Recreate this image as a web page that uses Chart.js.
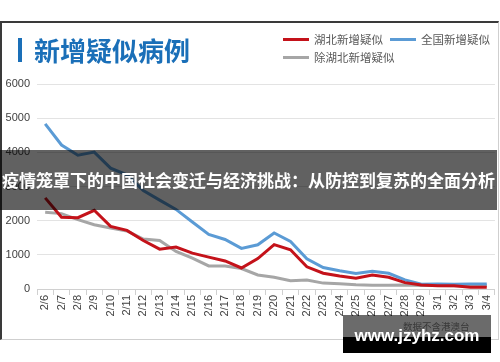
<!DOCTYPE html>
<html>
<head>
<meta charset="utf-8">
<script src="https://cdn.jsdelivr.net/npm/chart.js@4"></script>
<style>
  html,body{margin:0;padding:0;background:#fff;}
  #wrap{position:relative;width:500px;height:362px;overflow:hidden;background:#fff;font-family:"Noto Sans CJK SC","Liberation Sans",sans-serif;}
  canvas{position:absolute;left:0;top:0;}
  #frame{position:absolute;left:0;top:21px;width:496px;height:316px;border-top:2px solid #3a3a3a;border-left:2px solid #3a3a3a;border-right:1px solid #cfcfcf;border-bottom:1px solid #cfcfcf;pointer-events:none;}
  #titlebar{position:absolute;left:18px;top:38px;width:4px;height:24px;background:#1a6fb8;}
  #title{position:absolute;left:34px;top:32px;font-size:26px;font-weight:bold;color:#1a6fb8;line-height:36px;white-space:nowrap;letter-spacing:0px;}
  .lg{position:absolute;height:14px;display:flex;align-items:center;font-size:11.5px;color:#595959;white-space:nowrap;}
  .lg i{display:inline-block;width:26px;height:3px;margin-right:5px;}
  #banner{position:absolute;left:0;top:150px;width:497px;height:60px;background:rgba(0,0,0,0.62);color:#fff;font-weight:bold;font-size:17px;line-height:60px;text-align:center;white-space:nowrap;overflow:visible;}
  #note{position:absolute;left:403px;top:319px;font-size:9.5px;color:#888;white-space:nowrap;}
  #wm{position:absolute;left:343px;top:315px;width:148px;height:38px;background:linear-gradient(to bottom,rgba(0,0,0,0.58) 0px,rgba(0,0,0,0.58) 22px,#000 22px,#000 38px);}
  #wmt{position:absolute;left:343px;top:326px;width:148px;text-align:center;font-family:"Liberation Sans",sans-serif;font-weight:bold;font-size:17px;color:#fff;white-space:nowrap;}
</style>
</head>
<body>
<div id="wrap">
  <canvas id="c" width="500" height="362"></canvas>
  <div id="frame"></div>
  <div id="titlebar"></div>
  <div id="title">新增疑似病例</div>
  <div id="legend"></div>
  <div id="banner">疫情笼罩下的中国社会变迁与经济挑战：从防控到复苏的全面分析</div>
  <div id="note">数据不含港澳台</div>
  <div id="wm"></div>
  <div id="wmt">www.jzyhz.com</div>
</div>
<script>
const categories = ['2/6','2/7','2/8','2/9','2/10','2/11','2/12','2/13','2/14','2/15','2/16','2/17','2/18','2/19','2/20','2/21','2/22','2/23','2/24','2/25','2/26','2/27','2/28','2/29','3/1','3/2','3/3','3/4'];
const hubeiValues = [2667,2098,2088,2304,1833,1716,1420,1167,1230,1050,932,820,615,890,1300,1147,650,461,382,314,412,344,186,118,98,95,50,48];
const nationalValues = [4833,4214,3916,4008,3536,3342,2880,2600,2330,1960,1600,1450,1190,1294,1638,1392,882,630,535,455,520,461,265,137,145,140,150,150];
const otherValues = [2245,2206,2029,1882,1784,1700,1461,1421,1098,902,676,676,598,412,343,245,260,172,157,125,108,108,118,100,100,98,100,100];
const yTicks = [0,1000,2000,3000,4000,5000,6000];
const seriesNames = ['湖北新增疑似','全国新增疑似','除湖北新增疑似'];
const seriesColors = ['#c4121a','#5b9bd5','#a6a6a6'];

// legend
const legendPos = [[283,32],[390,32],[283,50]];
const lgEl = document.getElementById('legend');
seriesNames.forEach((n,i)=>{
  const d = document.createElement('div');
  d.className='lg';
  d.style.left = legendPos[i][0]+'px';
  d.style.top = legendPos[i][1]+'px';
  d.innerHTML = '<i style="background:'+seriesColors[i]+'"></i>'+n;
  lgEl.appendChild(d);
});

const tickFont = {family:'"Liberation Sans", sans-serif', size:11};
const series = [hubeiValues, nationalValues, otherValues];
new Chart(document.getElementById('c'), {
  type:'line',
  data:{
    labels:categories,
    datasets: series.map((v,i)=>({
      label:seriesNames[i], data:v, borderColor:seriesColors[i], backgroundColor:seriesColors[i],
      borderWidth:3, pointRadius:0, tension:0, fill:false
    }))
  },
  options:{
    responsive:false, animation:false,
    layout:{padding:{left:0,right:2,top:84,bottom:0}},
    plugins:{legend:{display:false}, tooltip:{enabled:false}},
    scales:{
      x:{
        offset:true,
        grid:{offset:true, drawOnChartArea:false, drawTicks:true, tickLength:6, color:'#d0d0d0'},
        border:{color:'#d0d0d0'},
        ticks:{maxRotation:90, minRotation:90, autoSkip:false, padding:0, color:'#404040', font:tickFont},
        afterFit(s){ s.height = 73; }
      },
      y:{
        min:yTicks[0], max:yTicks[yTicks.length-1],
        afterBuildTicks(s){ s.ticks = yTicks.map(v=>({value:v})); },
        ticks:{padding:7, color:'#404040', font:tickFont, callback:(v)=>String(v)},
        grid:{color:'#e3e3e3', drawTicks:false},
        border:{display:false},
        afterFit(s){ s.width = 37; }
      }
    }
  }
});
</script>
</body>
</html>
